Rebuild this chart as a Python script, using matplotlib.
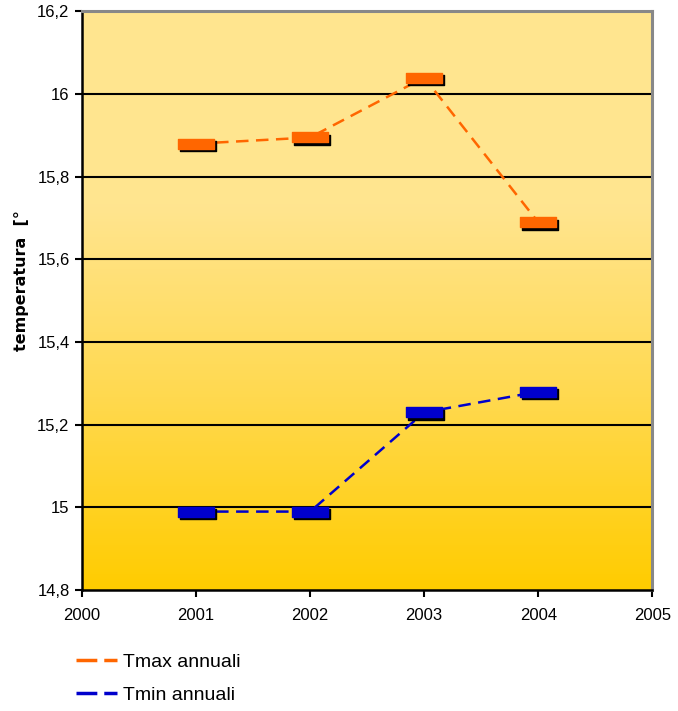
import numpy as np
import matplotlib
matplotlib.use("Agg")
import matplotlib.pyplot as plt
from matplotlib.colors import LinearSegmentedColormap
from matplotlib.lines import Line2D
from matplotlib.path import Path
import matplotlib.transforms as mtransforms

plt.rcParams["font.family"] = ["Liberation Sans", "DejaVu Sans"]

anni = [2001, 2002, 2003, 2004]
tmax = [15.88, 15.895, 16.04, 15.69]
tmin = [14.99, 14.99, 15.23, 15.28]
y_ticks = [14.8, 15.0, 15.2, 15.4, 15.6, 15.8, 16.0, 16.2]
y_labels = ["14,8", "15", "15,2", "15,4", "15,6", "15,8", "16", "16,2"]
x_ticks = [2000, 2001, 2002, 2003, 2004, 2005]

fig = plt.figure(figsize=(6.78, 7.11), dpi=100)
ax = fig.add_axes([0.121, 0.170, 0.841, 0.814])
ax.set_xlim(2000, 2005)
ax.set_ylim(14.8, 16.2)

# vertical gradient background of the plot area
grad = LinearSegmentedColormap.from_list("bg", ["#ffcc00", "#ffd94f", "#ffe590", "#ffe68f"])
ax.imshow(np.linspace(0, 1, 256).reshape(-1, 1), cmap=grad, origin="lower",
          extent=[2000, 2005, 14.8, 16.2], aspect="auto", zorder=0)

for y in y_ticks[1:-1]:
    ax.axhline(y, color="black", lw=1.5, zorder=1)

# wide flat marker shaped like a bar
box = Path([(-1, -0.27), (1, -0.27), (1, 0.27), (-1, 0.27), (-1, -0.27)],
           [Path.MOVETO, Path.LINETO, Path.LINETO, Path.LINETO, Path.CLOSEPOLY])
shadow = mtransforms.offset_copy(ax.transData, fig=fig, x=2, y=-2.5, units="dots")

for vals, col in [(tmax, "#ff6600"), (tmin, "#0000cc")]:
    ax.plot(anni, vals, color=col, lw=1.8, dashes=(5, 3), zorder=2)
    ax.plot(anni, vals, ls="none", marker=box, markersize=26.5, color="black",
            transform=shadow, zorder=3)
    ax.plot(anni, vals, ls="none", marker=box, markersize=26.5, color=col,
            markeredgecolor=col, zorder=4)

ax.set_xticks(x_ticks)
ax.set_yticks(y_ticks)
ax.set_yticklabels(y_labels)
ax.tick_params(axis="both", direction="out", length=5, width=1.5, labelsize=12,
               colors="black")
ax.tick_params(axis="x", pad=8)
ax.tick_params(axis="y", pad=4)

for side in ["left", "bottom"]:
    ax.spines[side].set_linewidth(1.8)
    ax.spines[side].set_color("black")
for side in ["top", "right"]:
    ax.spines[side].set_linewidth(2.2)
    ax.spines[side].set_color("#888888")

fig.text(0.031, 0.605, "temperatura  [°", rotation=90, ha="center", va="center",
         fontsize=11.5, fontweight="bold", family=["DejaVu Sans"])

handles = [Line2D([], [], color="#ff6600", lw=2.5, dashes=(6, 2, 6, 2, 1.5, 2)),
           Line2D([], [], color="#0000cc", lw=2.5, dashes=(6, 2, 6, 2, 1.5, 2))]
fig.legend(handles, ["Tmax annuali", "Tmin annuali"], loc="upper left",
           bbox_to_anchor=(0.101, 0.092), frameon=False, fontsize=14,
           handlelength=2.1, handletextpad=0.3, labelspacing=0.8,
           borderaxespad=0)

fig.savefig("out.png", dpi=100)
